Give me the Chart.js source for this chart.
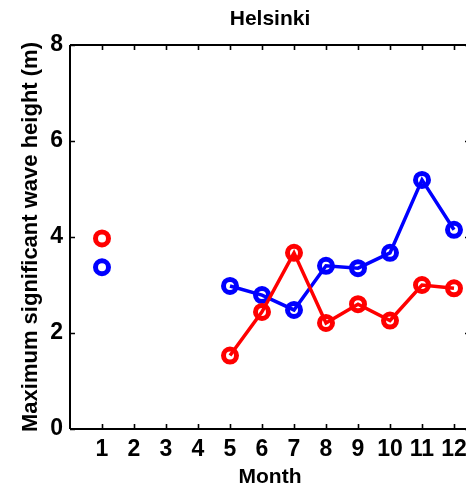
<!DOCTYPE html>
<html>
<head>
<meta charset="utf-8">
<script src="https://cdn.jsdelivr.net/npm/chart.js@4"></script>
<style>
  html, body { margin: 0; padding: 0; background: #fff; overflow: hidden; }
  #wrap { width: 466px; height: 490px; overflow: hidden; }
  canvas { display: block; }
</style>
</head>
<body>
<div id="wrap"><canvas id="c" width="490" height="490"></canvas></div>
<script>
// Monthly maximum significant wave height at Helsinki (m); no values for Feb-Apr
const months = [1, 2, 3, 4, 5, 6, 7, 8, 9, 10, 11, 12];
const redSeries  = [3.97, null, null, null, 1.53, 2.44, 3.67, 2.21, 2.60, 2.26, 3.00, 2.93];
const blueSeries = [3.37, null, null, null, 2.98, 2.79, 2.48, 3.40, 3.35, 3.67, 5.19, 4.15];
const yTicks = [0, 2, 4, 6, 8];
const titleText = 'Helsinki';
const xTitle = 'Month';
const yTitle = 'Maximum significant wave height (m)';

const FONT = '"Liberation Sans", Arial, Helvetica, sans-serif';

function toPoints(values) {
  return months.map((m, i) => ({ x: m, y: values[i] }));
}

// Axes box with inward tick marks, plus the title centred over the plot area
const frame = {
  id: 'frame',
  afterDraw(chart) {
    const { ctx, chartArea: a, scales } = chart;
    const x = scales.x, y = scales.y;
    ctx.save();
    ctx.strokeStyle = '#000';
    ctx.lineWidth = 2;
    ctx.beginPath();
    ctx.moveTo(a.left, a.top); ctx.lineTo(a.right, a.top);
    ctx.moveTo(a.left, a.top); ctx.lineTo(a.left, a.bottom);
    ctx.moveTo(a.left, a.bottom); ctx.lineTo(a.right, a.bottom);
    ctx.moveTo(a.right, a.top); ctx.lineTo(a.right, a.bottom);
    ctx.stroke();
    ctx.lineWidth = 1.6;
    ctx.beginPath();
    const len = 5;
    months.forEach(m => {
      const px = Math.round(x.getPixelForValue(m)) + 0.5;
      ctx.moveTo(px, a.bottom); ctx.lineTo(px, a.bottom - len);
      ctx.moveTo(px, a.top); ctx.lineTo(px, a.top + len);
    });
    yTicks.forEach(v => {
      const py = Math.round(y.getPixelForValue(v)) + 0.5;
      ctx.moveTo(a.left, py); ctx.lineTo(a.left + len, py);
      ctx.moveTo(a.right, py); ctx.lineTo(a.right - len, py);
    });
    ctx.stroke();
    ctx.fillStyle = '#000';
    ctx.font = 'bold 21px ' + FONT;
    ctx.textAlign = 'center';
    ctx.textBaseline = 'middle';
    ctx.fillText(titleText, (a.left + a.right) / 2, 19);
    ctx.restore();
  }
};

new Chart(document.getElementById('c'), {
  type: 'line',
  data: {
    datasets: [
      {
        label: 'red',
        data: toPoints(redSeries),
        borderColor: '#ff0000',
        backgroundColor: 'rgba(0,0,0,0)',
        pointBorderColor: '#ff0000',
        pointBackgroundColor: 'rgba(0,0,0,0)',
        borderWidth: 3.5,
        pointRadius: 6.5,
        pointBorderWidth: 5,
        pointStyle: 'circle',
        spanGaps: false,
        tension: 0,
        order: 0
      },
      {
        label: 'blue',
        data: toPoints(blueSeries),
        borderColor: '#0000ff',
        backgroundColor: 'rgba(0,0,0,0)',
        pointBorderColor: '#0000ff',
        pointBackgroundColor: 'rgba(0,0,0,0)',
        borderWidth: 3.5,
        pointRadius: 6.5,
        pointBorderWidth: 5,
        pointStyle: 'circle',
        spanGaps: false,
        tension: 0,
        order: 1
      }
    ]
  },
  options: {
    responsive: false,
    animation: false,
    devicePixelRatio: 1,
    layout: { padding: { top: 45, right: 20, bottom: 0, left: 0 } },
    plugins: {
      legend: { display: false },
      title: { display: false },
      tooltip: { enabled: false }
    },
    scales: {
      x: {
        type: 'linear',
        min: 0,
        max: 12.5,
        afterBuildTicks(scale) { scale.ticks = months.map(v => ({ value: v })); },
        afterFit(scale) { scale.height = 61; },
        grid: { display: false, drawTicks: false },
        border: { display: false },
        ticks: {
          color: '#000',
          font: { family: FONT, size: 23, weight: 'bold' },
          padding: 7,
          maxRotation: 0,
          autoSkip: false
        },
        title: {
          display: true,
          text: xTitle,
          color: '#000',
          font: { family: FONT, size: 21, weight: 'bold' },
          padding: { top: 0, bottom: 0 }
        }
      },
      y: {
        min: 0,
        max: 8,
        afterBuildTicks(scale) { scale.ticks = yTicks.map(v => ({ value: v })); },
        afterFit(scale) { scale.width = 70; },
        grid: { display: false, drawTicks: false },
        border: { display: false },
        ticks: {
          color: '#000',
          font: { family: FONT, size: 23, weight: 'bold' },
          padding: 7
        },
        title: {
          display: true,
          text: yTitle,
          color: '#000',
          font: { family: FONT, size: 22, weight: 'bold' },
          padding: { top: 18, bottom: 0 }
        }
      }
    }
  },
  plugins: [frame]
});
</script>
</body>
</html>
